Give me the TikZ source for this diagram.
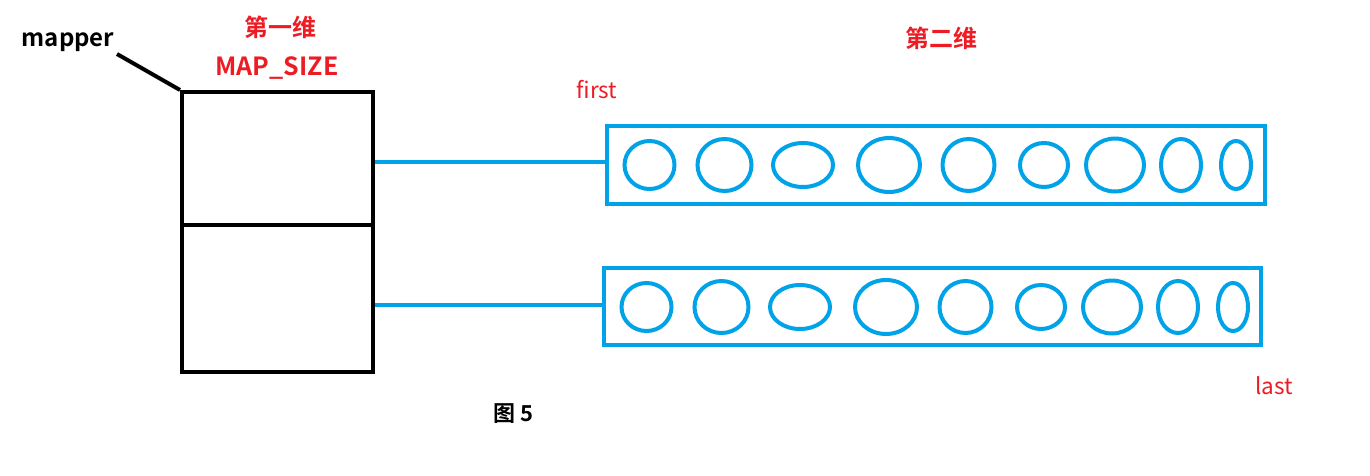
\documentclass[tikz,border=0pt]{standalone}
\usepackage{fontspec}
\setmainfont{Noto Sans CJK SC}
\newfontfamily\cjkbold{Noto Sans CJK SC Bold}
\definecolor{pblue}{HTML}{00A2E8}
\definecolor{pred}{HTML}{ED1C24}
\begin{document}
\begin{tikzpicture}[x=1pt,y=-1pt,
  cell/.style={draw=black,line width=4pt,inner sep=0pt,minimum width=191pt},
  bucket/.style={draw=pblue,line width=4pt,inner sep=0pt},
  link/.style={draw=pblue,line width=4pt},
  elem/.style={draw=pblue,line width=4pt},
  redb/.style={text=pred,font=\cjkbold\fontsize{24}{27}\selectfont},
  redr/.style={text=pred,font=\fontsize{22.5}{25}\selectfont},
  blk/.style={text=black,font=\cjkbold\fontsize{24}{28}\selectfont}]
\useasboundingbox (0,0) rectangle (1370,475);
\fill[white] (0,0) rectangle (1370,475);
% first dimension
\node[cell,minimum height=133pt] (c1) at (277.5,158.5) {};
\node[cell,minimum height=147pt] (c2) at (277.5,298.5) {};
% second dimension buckets
\node[bucket,minimum width=658pt,minimum height=78pt] (r1) at (936,165) {};
\node[bucket,minimum width=657pt,minimum height=77pt] (r2) at (932.5,306.5) {};
\draw[link] ([yshift=3pt]r1.west -| c1.east) -- ([yshift=3pt]r1.west);
\draw[link] ([yshift=2pt]r2.west -| c2.east) -- ([yshift=2pt]r2.west);
% elements
\foreach \dx/\rx/\ry in {649.5/25/24, 724.5/27/26, 803/30/22, 889/31/27, 968.5/26/26, 1044/24/22, 1115/29/26.5, 1181/20/26, 1236/15/24}{
  \draw[elem] (\dx,165) ellipse [x radius=\rx, y radius=\ry];
  \draw[elem] (\dx-3,307) ellipse [x radius=\rx, y radius=\ry];
}
% labels
\node[blk] (mp) at (68,42) {mapper};
\coordinate (mpend) at (117,54);
\draw[black,line width=4pt] (mpend) -- (c1.north west);
\node[redb] (d1) at (280,27) {第一维};
\node[redb,font=\cjkbold\fontsize{25}{28}\selectfont] (ms) at (277,68) {MAP\_SIZE};
\node[redb] (d2) at (941,38) {第二维};
\node[redr] (fi) at (597,90) {first};
\node[redr] (la) at (1274,386) {last};
\node[blk,font=\cjkbold\fontsize{22}{26}\selectfont] (fig) at (513,414) {图 5};
\end{tikzpicture}
\end{document}
